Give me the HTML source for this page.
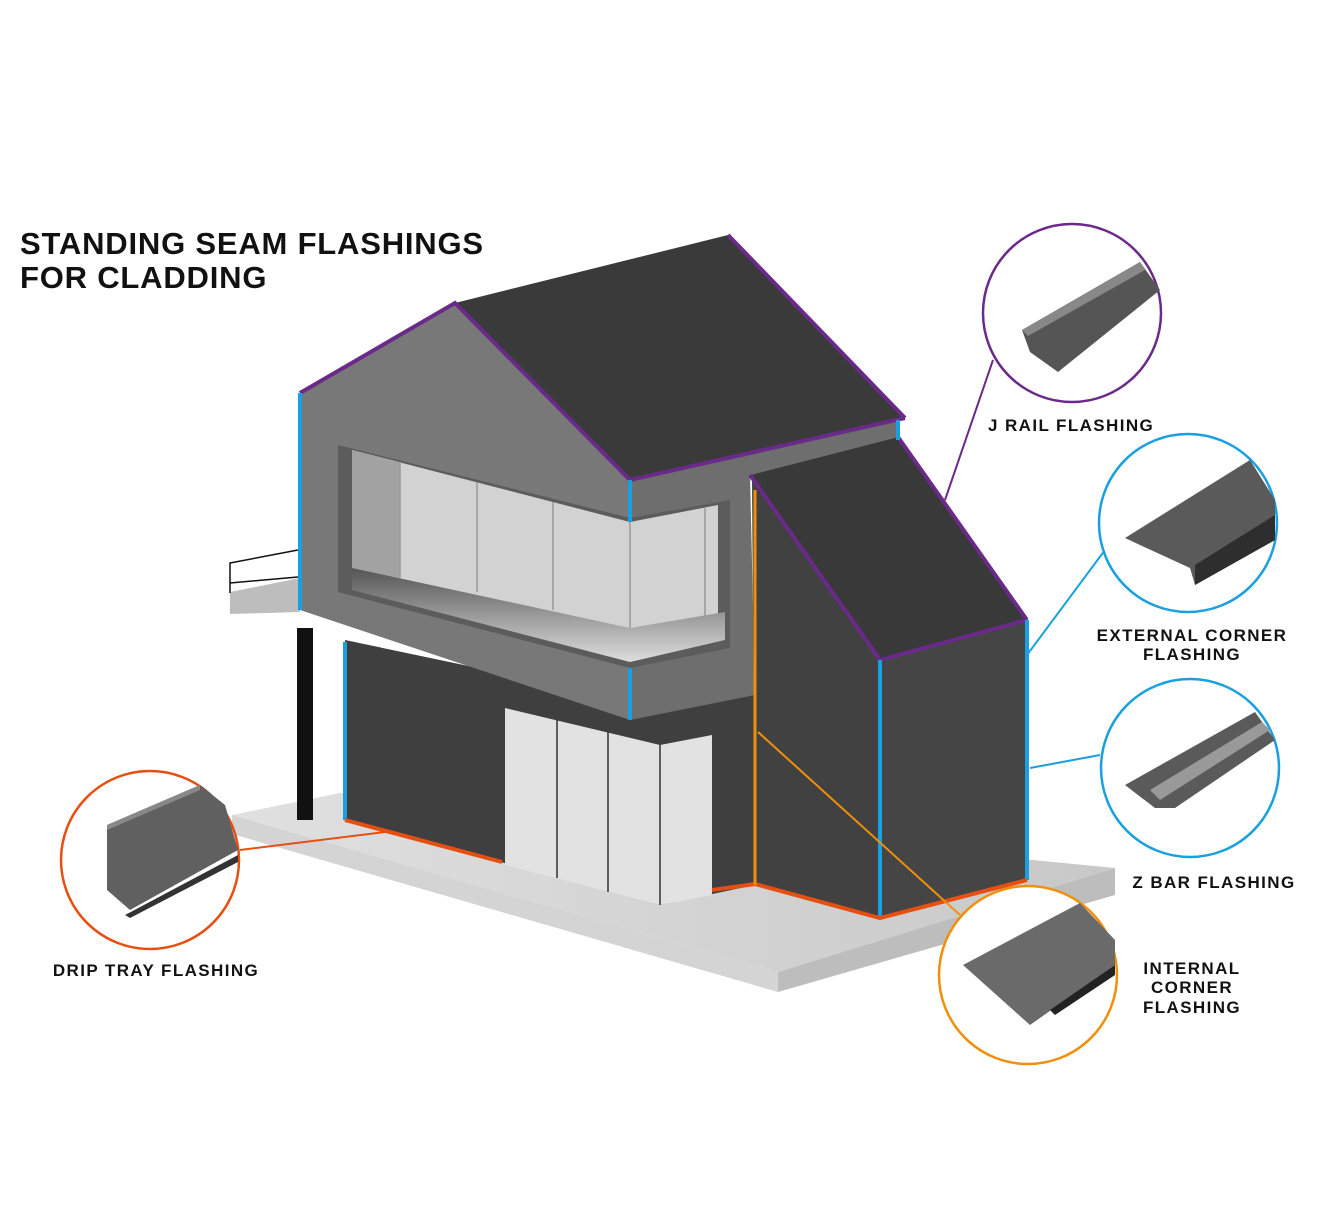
<!DOCTYPE html>
<html><head><meta charset="utf-8"><style>
html,body{margin:0;padding:0;background:#fff}
svg{display:block}
text{font-family:"Liberation Sans",sans-serif;font-weight:bold;fill:#111}
.l{letter-spacing:1.4px}
</style></head><body>
<svg width="1339" height="1230" viewBox="0 0 1339 1230" xmlns="http://www.w3.org/2000/svg">
<defs>
<linearGradient id="fl" x1="0" y1="0" x2="0" y2="1"><stop offset="0" stop-color="#555"/><stop offset="1" stop-color="#ddd"/></linearGradient>
<linearGradient id="gr" x1="0" y1="0" x2="1" y2="0"><stop offset="0" stop-color="#e0e0e0"/><stop offset="1" stop-color="#c8c8c8"/></linearGradient>
</defs>
<text x="20" y="254" font-size="31" letter-spacing="0.8">STANDING SEAM FLASHINGS</text>
<text x="20" y="288" font-size="31" letter-spacing="0.8">FOR CLADDING</text>
<!-- ground -->
<polygon points="232,815 340,793 1115,868 778,972" fill="url(#gr)"/>
<polygon points="232,815 778,972 778,992 232,834" fill="#d4d4d4"/>
<polygon points="778,972 1115,868 1115,895 778,992" fill="#bdbdbd"/>
<!-- lower wall -->
<polygon points="345,640 630,700 755,690 755,885 660,905 345,820" fill="#3f3f3f"/>
<polygon points="505,708 660,745 712,735 712,895 660,905 505,865" fill="#e2e2e2"/>
<g stroke="#333" stroke-width="1.5"><line x1="557" y1="720" x2="557" y2="878"/><line x1="608" y1="732" x2="608" y2="892"/><line x1="660" y1="745" x2="660" y2="905"/></g>
<!-- column & balcony -->
<rect x="297" y="628" width="16" height="192" fill="#111"/>
<polygon points="230,592 300,578 300,612 230,614" fill="#bdbdbd"/>
<g stroke="#111" stroke-width="1.5" fill="none"><polyline points="230,593 230,563 298,550"/><line x1="230" y1="583" x2="298" y2="577"/></g>
<!-- upper volume -->
<polygon points="300,393 455,303 630,480 630,720 300,610" fill="#787878"/>
<polygon points="630,480 898,420 898,437 750,475 755,695 630,720" fill="#6e6e6e"/>
<polygon points="338,445 630,518 730,500 730,648 630,668 338,592" fill="#5c5c5c"/>
<polygon points="352,450 630,522 718,505 718,620 630,632 352,570" fill="#d2d2d2"/>
<polygon points="352,450 400,462 400,578 352,570" fill="#a2a2a2"/>
<g stroke="#999" stroke-width="1.5"><line x1="400" y1="462" x2="400" y2="578"/><line x1="477" y1="482" x2="477" y2="592"/><line x1="553" y1="502" x2="553" y2="610"/><line x1="630" y1="522" x2="630" y2="628"/><line x1="705" y1="507" x2="705" y2="618"/></g>
<polygon points="352,568 630,628 725,612 725,640 630,662 352,590" fill="url(#fl)"/>
<!-- main roof -->
<polygon points="455,303 728,235 905,418 630,480" fill="#3a3a3a"/>
<!-- right volume -->
<polygon points="752,478 880,660 880,918 755,885" fill="#414141"/>
<polygon points="880,660 1027,620 1027,880 880,918" fill="#454545"/>
<polygon points="750,475 898,437 1027,620 880,660" fill="#393939"/>
<!-- edges -->
<g stroke="#6a2a8a" stroke-width="4" fill="none"><polyline points="300,393 455,303 630,480 905,418"/><line x1="728" y1="235" x2="905" y2="418"/><polyline points="750,475 880,660 1027,620"/><line x1="898" y1="437" x2="1027" y2="620"/></g>
<g stroke="#1aa0e0" stroke-width="4"><line x1="300" y1="393" x2="300" y2="610"/><line x1="345" y1="642" x2="345" y2="820"/><line x1="630" y1="480" x2="630" y2="522"/><line x1="630" y1="668" x2="630" y2="720"/><line x1="880" y1="660" x2="880" y2="918"/><line x1="1027" y1="620" x2="1027" y2="880"/><line x1="898" y1="420" x2="898" y2="440"/></g>
<g stroke="#e55012" stroke-width="4" fill="none"><line x1="345" y1="820" x2="502" y2="862"/><polyline points="712,890 755,884 880,918 1027,880"/></g>
<line x1="240" y1="850" x2="385" y2="832" stroke="#e55012" stroke-width="2"/>
<line x1="755" y1="490" x2="755" y2="885" stroke="#f0900a" stroke-width="3"/>
<line x1="758" y1="732" x2="960" y2="915" stroke="#f0900a" stroke-width="2"/>
<line x1="993" y1="360" x2="945" y2="500" stroke="#6a2a8a" stroke-width="2"/>
<line x1="1105" y1="550" x2="1027" y2="655" stroke="#1aa0e0" stroke-width="2"/>
<line x1="1100" y1="755" x2="1030" y2="768" stroke="#1aa0e0" stroke-width="2"/>
<!-- circles -->
<g stroke-width="2.5" fill="#fff">
<circle cx="1072" cy="313" r="89" stroke="#6a2a8a"/>
<circle cx="1188" cy="523" r="89" stroke="#1aa0e0"/>
<circle cx="1190" cy="768" r="89" stroke="#1aa0e0"/>
<circle cx="1028" cy="975" r="89" stroke="#f0900a"/>
<circle cx="150" cy="860" r="89" stroke="#e55012"/>
</g>
<!-- flashings -->
<polygon points="1022,330 1140,262 1160,290 1058,372 1030,352" fill="#555"/>
<polygon points="1022,330 1140,262 1145,270 1028,336" fill="#888"/>
<polygon points="1125,538 1250,460 1275,500 1275,540 1195,585 1190,568 1140,545" fill="#5a5a5a"/>
<polygon points="1195,585 1275,540 1275,515 1195,565" fill="#2e2e2e"/>
<polygon points="1125,785 1255,712 1275,740 1175,808 1155,808" fill="#5a5a5a"/>
<polygon points="1150,790 1262,722 1270,730 1160,800" fill="#999"/>
<polygon points="963,965 1080,903 1115,940 1115,965 1030,1025" fill="#6a6a6a"/>
<polygon points="1055,1015 1115,975 1115,965 1050,1010" fill="#222"/>
<polygon points="107,825 200,785 225,805 238,850 130,910 107,890" fill="#606060"/>
<polygon points="107,825 200,785 200,790 107,830" fill="#888"/>
<polygon points="125,915 238,855 238,862 130,918" fill="#333"/>
<!-- labels -->
<text class="l" x="988" y="431" font-size="17">J RAIL FLASHING</text>
<text class="l" x="1192" y="641" font-size="17" text-anchor="middle">EXTERNAL CORNER</text>
<text class="l" x="1192" y="660" font-size="17" text-anchor="middle">FLASHING</text>
<text class="l" x="1214" y="888" font-size="17" text-anchor="middle">Z BAR FLASHING</text>
<text class="l" x="1192" y="974" font-size="17" text-anchor="middle">INTERNAL</text>
<text class="l" x="1192" y="993" font-size="17" text-anchor="middle">CORNER</text>
<text class="l" x="1192" y="1013" font-size="17" text-anchor="middle">FLASHING</text>
<text class="l" x="156" y="976" font-size="17" text-anchor="middle">DRIP TRAY FLASHING</text>
</svg>
</body></html>
